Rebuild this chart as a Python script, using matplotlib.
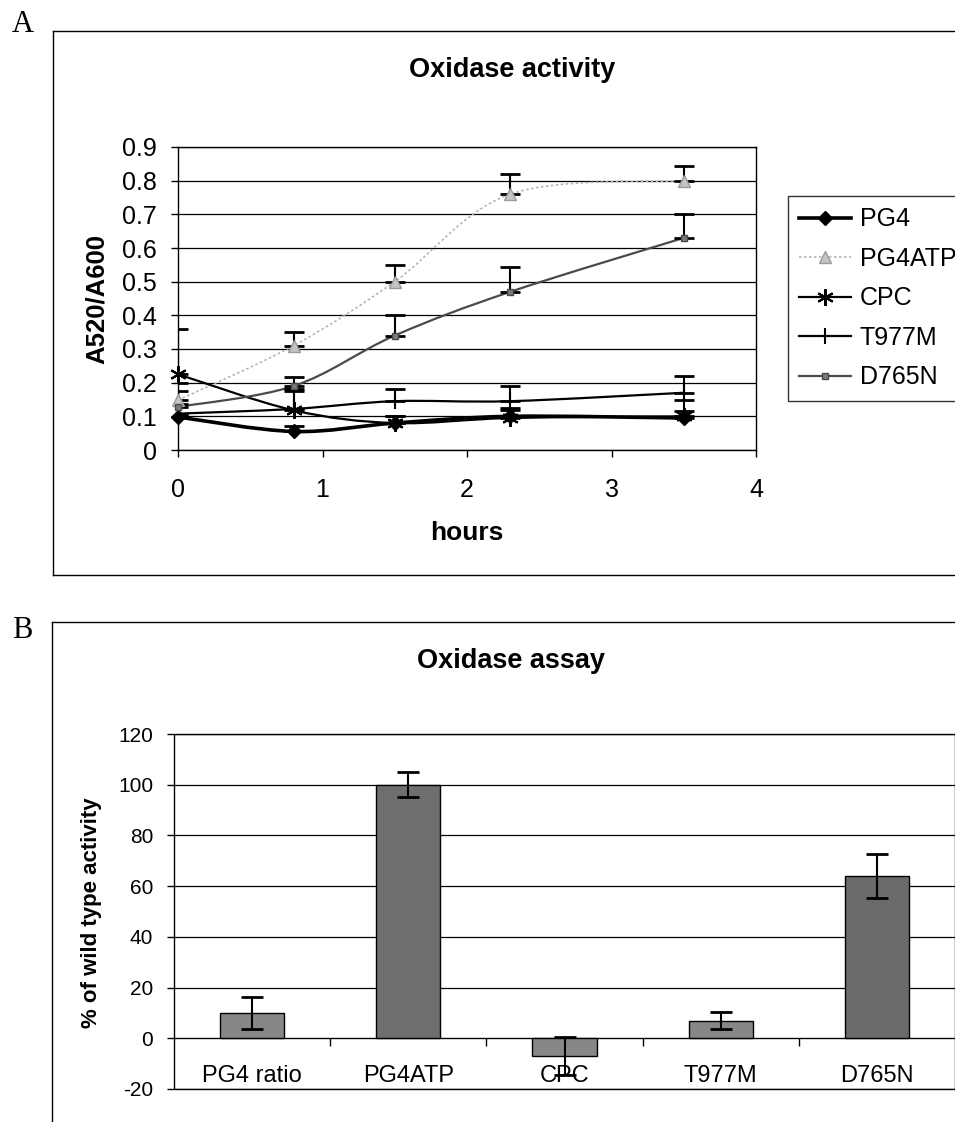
import numpy as np
import matplotlib.pyplot as plt
from matplotlib.path import Path
from matplotlib.patches import PathPatch, Rectangle
from matplotlib.lines import Line2D

plt.rcParams['font.family'] = ['Liberation Sans', 'DejaVu Sans']
plt.rcParams['axes.unicode_minus'] = False

W, H = 955, 1122

# Panel A: oxidase activity over time
hours = [0, 0.8, 1.5, 2.3, 3.5]
pg4 = [0.098, 0.055, 0.08, 0.10, 0.095]
pg4_err = [0.005, 0.016, 0.02, 0.02, 0.02]
pg4atp = [0.148, 0.31, 0.50, 0.76, 0.80]
pg4atp_err = [0.05, 0.04, 0.05, 0.06, 0.045]
cpc = [0.225, 0.118, 0.08, 0.095, 0.10]
cpc_err = [0.135, 0.057, 0.02, 0.03, 0.05]
t977m = [0.108, 0.122, 0.145, 0.145, 0.17]
t977m_err = [0.067, 0.06, 0.035, 0.045, 0.05]
d765n = [0.128, 0.19, 0.34, 0.47, 0.63]
d765n_err = [0.01, 0.027, 0.06, 0.075, 0.07]

# Panel B: oxidase assay
samples = ['PG4 ratio', 'PG4ATP', 'CPC', 'T977M', 'D765N']
pct_activity = [10, 100, -7, 7, 64]
pct_err = [6.3, 5, 7.5, 3.2, 8.5]
bar_colors = ['#878787', '#6e6e6e', '#878787', '#878787', '#6a6a6a']


def fx(x):
    return x / W


def fy(y):
    return 1 - y / H


def smooth_path(xs, ys):
    # Excel-like smoothed line drawn as cubic Bezier segments
    p = np.column_stack([xs, ys]).astype(float)
    n = len(p)
    verts = [p[0]]
    codes = [Path.MOVETO]
    for i in range(n - 1):
        p0 = p[i - 1] if i > 0 else p[i]
        p3 = p[i + 2] if i + 2 < n else p[i + 1]
        c1 = p[i] + (p[i + 1] - p0) / 6
        c2 = p[i + 1] - (p3 - p[i]) / 6
        verts += [c1, c2, p[i + 1]]
        codes += [Path.CURVE4] * 3
    return Path(verts, codes)


fig = plt.figure(figsize=(W / 100, H / 100), dpi=100)

# outer frames
for xs, ys in [([53, 53], [31, 575]), ([53, W], [31, 31]), ([53, W], [575, 575]),
               ([52, 52], [622, H]), ([52, W], [622, 622])]:
    fig.add_artist(Line2D([fx(v) for v in xs], [fy(v) for v in ys], color='black', lw=1))

fig.text(fx(12), fy(25), 'A', family='Liberation Serif', fontsize=22, va='center')
fig.text(fx(12), fy(630), 'B', family='Liberation Serif', fontsize=22, va='center')

# ---- Panel A ----
axA = fig.add_axes([fx(178), fy(450), fx(756) - fx(178), fy(147) - fy(450)])
axA.set_xlim(0, 4)
axA.set_ylim(0, 0.9)
axA.set_yticks(np.arange(0, 0.91, 0.1))
axA.set_yticklabels(['0'] + ['%.1f' % v for v in np.arange(0.1, 0.91, 0.1)])
axA.set_xticks([0, 1, 2, 3, 4])
axA.yaxis.grid(True, color='black', lw=0.9)
axA.set_axisbelow(True)
for s in axA.spines.values():
    s.set_linewidth(1)
axA.tick_params(axis='both', labelsize=18, direction='out', length=5, width=1)
axA.tick_params(axis='x', pad=15)
axA.tick_params(axis='y', pad=10)

series = [
    (pg4, pg4_err, dict(color='black', lw=2.6, ls='-'), dict(marker='D', ms=7, mfc='black', mec='black'), 'PG4'),
    (pg4atp, pg4atp_err, dict(color='#b4b4b4', lw=1.2, ls=(0, (1.5, 1.5))), dict(marker='^', ms=8, mfc='#c4c4c4', mec='#9a9a9a'), 'PG4ATP'),
    (cpc, cpc_err, dict(color='black', lw=1.6, ls='-'), dict(marker=(6, 2, 0), ms=12, mec='black', mew=1.5), 'CPC'),
    (t977m, t977m_err, dict(color='black', lw=1.6, ls='-'), dict(marker='|', ms=11, mec='black', mew=1.5), 'T977M'),
    (d765n, d765n_err, dict(color='#4a4a4a', lw=1.6, ls='-'), dict(marker='s', ms=5, mfc='#7a7a7a', mec='#4a4a4a'), 'D765N'),
]

handles = []
for ys, err, lstyle, mstyle, name in series:
    axA.add_patch(PathPatch(smooth_path(hours, ys), facecolor='none', edgecolor=lstyle['color'],
                            lw=lstyle['lw'], ls=lstyle['ls'], zorder=3))
    axA.errorbar(hours, ys, yerr=[np.zeros(len(err)), err], fmt='none', ecolor='black',
                 elinewidth=1.5, capsize=7, capthick=2, zorder=4)
    axA.plot(hours, ys, ls='none', zorder=5, clip_on=False, **mstyle)
    handles.append(Line2D([], [], **lstyle, **mstyle))

fig.text(fx(97), fy(299), 'A520/A600', fontsize=18.5, fontweight='bold', rotation=90,
         ha='center', va='center')
fig.text(fx(467), fy(533), 'hours', fontsize=19, fontweight='bold', ha='center', va='center')
fig.text(fx(512), fy(70), 'Oxidase activity', fontsize=19.5, fontweight='bold', ha='center', va='center')

leg = fig.legend(handles=handles, labels=[s[4] for s in series], loc='upper left',
                 bbox_to_anchor=(fx(788), fy(196)), fontsize=18, frameon=True, fancybox=False,
                 edgecolor='black', handlelength=2.05, handletextpad=0.36, labelspacing=0.62,
                 borderpad=0.45, borderaxespad=0)
leg.get_frame().set_linewidth(1)

# ---- Panel B ----
axB = fig.add_axes([fx(174), fy(1089), 1 - fx(174), fy(734) - fy(1089)])
pos = np.arange(len(samples))
axB.bar(pos, pct_activity, width=0.41, color=bar_colors, edgecolor='black', lw=1, zorder=3)
axB.errorbar(pos, pct_activity, yerr=pct_err, fmt='none', ecolor='black', elinewidth=1.5,
             capsize=8, capthick=2, zorder=4)
axB.set_xlim(-0.5, 4.5)
axB.set_ylim(-20, 120)
axB.set_yticks(np.arange(-20, 121, 20))
axB.yaxis.grid(True, color='black', lw=0.9)
axB.set_axisbelow(True)
for s in ['top', 'left', 'right']:
    axB.spines[s].set_visible(False)
axB.spines['bottom'].set_position(('data', 0))
axB.add_patch(Rectangle((0, 0), 1, 1, transform=axB.transAxes, fill=False, lw=1,
                        edgecolor='black', clip_on=False, zorder=1))
axB.set_xticks(pos)
axB.set_xticklabels(samples)
axB.set_xticks([0.5, 1.5, 2.5, 3.5], minor=True)
axB.tick_params(axis='x', which='major', length=0, labelsize=17, pad=19)
axB.tick_params(axis='x', which='minor', length=6, width=1, direction='out')
axB.tick_params(axis='y', labelsize=15, direction='out', length=5, width=1, pad=10)
fig.text(fx(91), fy(913), '% of wild type activity', fontsize=16, fontweight='bold', rotation=90,
         ha='center', va='center')
fig.text(fx(511), fy(661), 'Oxidase assay', fontsize=19.5, fontweight='bold', ha='center', va='center')

fig.savefig('out.png', dpi=100)
